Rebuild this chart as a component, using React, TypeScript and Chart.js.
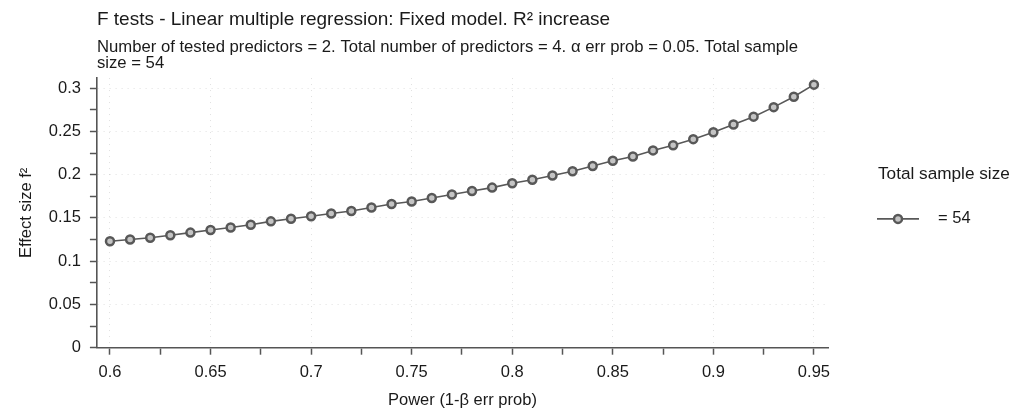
import { useEffect, useRef } from "react";
import { Chart, registerables } from "chart.js";

Chart.register(...registerables);

const FONT = '"Liberation Sans", Arial, Helvetica, sans-serif';

const chartTitle = "F tests - Linear multiple regression: Fixed model. R² increase";
const chartSubtitle = [
  "Number of tested predictors = 2. Total number of predictors = 4. α err prob = 0.05. Total sample",
  "size = 54",
];
const xAxisTitle = "Power (1-β err prob)";
const yAxisTitle = "Effect size f²";
const legendTitle = "Total sample size";
const seriesLabel = "= 54";

const powerValues = [
  0.6, 0.61, 0.62, 0.63, 0.64, 0.65, 0.66, 0.67, 0.68, 0.69, 0.7, 0.71,
  0.72, 0.73, 0.74, 0.75, 0.76, 0.77, 0.78, 0.79, 0.8, 0.81, 0.82, 0.83,
  0.84, 0.85, 0.86, 0.87, 0.88, 0.89, 0.9, 0.91, 0.92, 0.93, 0.94, 0.95,
];
const effectSizes = [
  0.123, 0.125, 0.127, 0.13, 0.133, 0.136, 0.139, 0.142, 0.146, 0.149, 0.152, 0.155,
  0.158, 0.162, 0.166, 0.169, 0.173, 0.177, 0.181, 0.185, 0.19, 0.194, 0.199, 0.204,
  0.21, 0.216, 0.221, 0.228, 0.234, 0.241, 0.249, 0.258, 0.267, 0.278, 0.29, 0.304,
];

const xRange = [0.5935, 0.957];
const yRange = [0, 0.3116];
const minorStep = 0.025;
const majorStep = 0.05;

const isMajor = (v: number) => Math.abs(v / majorStep - Math.round(v / majorStep)) < 1e-6;
const fmt = (v: number) => String(Math.round(v * 1000) / 1000);

const sideLegend = {
  id: "sideLegend",
  afterDraw(chart: any) {
    const { ctx, chartArea } = chart;
    const ds = chart.data.datasets[0];
    const x0 = chartArea.right + 49;
    const cy = (chartArea.top + chartArea.bottom) / 2;
    ctx.save();
    ctx.font = `17.2px ${FONT}`;
    ctx.fillStyle = "#1a1a1a";
    ctx.textBaseline = "middle";
    ctx.textAlign = "left";
    ctx.fillText(legendTitle, x0 + 1, cy - 39);
    const iy = cy + 6;
    ctx.strokeStyle = ds.borderColor;
    ctx.lineWidth = ds.borderWidth;
    ctx.beginPath();
    ctx.moveTo(x0, iy);
    ctx.lineTo(x0 + 42, iy);
    ctx.stroke();
    ctx.beginPath();
    ctx.arc(x0 + 21, iy, ds.pointRadius, 0, Math.PI * 2);
    ctx.fillStyle = ds.pointBackgroundColor;
    ctx.fill();
    ctx.lineWidth = ds.pointBorderWidth;
    ctx.strokeStyle = ds.pointBorderColor;
    ctx.stroke();
    ctx.fillStyle = "#1a1a1a";
    ctx.font = `16.5px ${FONT}`;
    ctx.fillText(ds.label, x0 + 61, iy);
    ctx.restore();
  },
};

export default function App() {
  const ref = useRef<HTMLCanvasElement | null>(null);

  useEffect(() => {
    if (!ref.current) return;
    const gridColor = (c: any) =>
      isMajor(c.tick.value) ? "rgba(0,0,0,0.12)" : "rgba(0,0,0,0)";
    const chart = new Chart(ref.current, {
      type: "line",
      data: {
        datasets: [
          {
            label: seriesLabel,
            data: powerValues.map((x, i) => ({ x, y: effectSizes[i] })),
            borderColor: "#585858",
            borderWidth: 1.6,
            pointRadius: 4,
            pointBorderWidth: 2.5,
            pointBorderColor: "#585858",
            pointBackgroundColor: "#c4c4c4",
            pointStyle: "circle",
            tension: 0,
          },
        ],
      },
      plugins: [sideLegend],
      options: {
        responsive: false,
        animation: false,
        devicePixelRatio: 1,
        layout: { padding: { left: 0, right: 194, top: 0, bottom: 0 } },
        plugins: {
          legend: { display: false },
          tooltip: { enabled: false },
          title: {
            display: true,
            text: chartTitle,
            align: "start",
            fullSize: false,
            color: "#1a1a1a",
            font: { family: FONT, size: 19, weight: "normal", lineHeight: 1.2 },
            padding: { top: 8.6, bottom: 0 },
          },
          subtitle: {
            display: true,
            text: chartSubtitle,
            align: "start",
            fullSize: false,
            color: "#1a1a1a",
            font: { family: FONT, size: 16.7, weight: "normal", lineHeight: 0.96 },
            padding: { top: 7.6, bottom: 7 },
          },
        },
        scales: {
          x: {
            type: "linear",
            min: xRange[0],
            max: xRange[1],
            border: { display: true, color: "#555", width: 1.6, dash: [1, 5] },
            grid: {
              color: gridColor,
              lineWidth: 1,
              drawTicks: true,
              tickLength: 7,
              tickColor: "#555",
              tickWidth: 1.5,
            },
            ticks: {
              stepSize: minorStep,
              includeBounds: false,
              autoSkip: false,
              maxRotation: 0,
              padding: 8,
              color: "#1a1a1a",
              font: { family: FONT, size: 16.5 },
              callback: (v: any) => (isMajor(Number(v)) ? fmt(Number(v)) : ""),
            },
            title: {
              display: true,
              text: xAxisTitle,
              color: "#1a1a1a",
              font: { family: FONT, size: 16.5, lineHeight: 1.0 },
              padding: { top: 2, bottom: 0 },
            },
          },
          y: {
            type: "linear",
            min: yRange[0],
            max: yRange[1],
            border: { display: true, color: "#555", width: 1.6, dash: [1, 5] },
            grid: {
              color: gridColor,
              lineWidth: 1,
              drawTicks: true,
              tickLength: 7,
              tickColor: "#555",
              tickWidth: 1.5,
            },
            ticks: {
              stepSize: minorStep,
              includeBounds: false,
              autoSkip: false,
              padding: 9,
              color: "#1a1a1a",
              font: { family: FONT, size: 16.5 },
              callback: (v: any) => (isMajor(Number(v)) ? fmt(Number(v)) : ""),
            },
            title: {
              display: true,
              text: yAxisTitle,
              color: "#1a1a1a",
              font: { family: FONT, size: 16.5 },
              padding: { top: 17, bottom: 3 },
            },
          },
        },
      },
    });
    return () => chart.destroy();
  }, []);

  return (
    <div style={{ position: "absolute", left: 0, top: 0, width: 1022, height: 409, background: "#fff" }}>
      <canvas ref={ref} width={1022} height={409} style={{ width: 1022, height: 409, display: "block" }} />
    </div>
  );
}
